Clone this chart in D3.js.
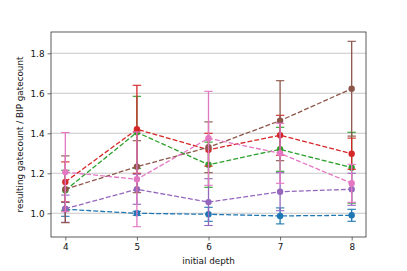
<!DOCTYPE html>
<html>
<head>
<meta charset="utf-8">
<script src="https://cdn.jsdelivr.net/npm/d3@7/dist/d3.min.js"></script>
<style>
html,body{margin:0;padding:0;background:#fff;}
svg{display:block;font-family:"DejaVu Sans",sans-serif;}
</style>
</head>
<body>
<svg id="chart" width="407" height="271"></svg>
<script>
const depths = [4, 5, 6, 7, 8];
const yTicks = [1.0, 1.2, 1.4, 1.6, 1.8];
const seriesColors = ["#1f77b4", "#2ca02c", "#d62728", "#9467bd", "#8c564b", "#e377c2"];

const blueMean   = [1.02, 1.00, 0.995, 0.987, 0.99];
const blueErr    = [0.035, 0.01, 0.035, 0.04, 0.03];
const greenMean  = [1.115, 1.405, 1.243, 1.32, 1.228];
const greenErr   = [0.10, 0.18, 0.113, 0.11, 0.177];
const redMean    = [1.157, 1.42, 1.318, 1.39, 1.298];
const redErr     = [0.10, 0.22, 0.082, 0.10, 0.078];
const purpleMean = [1.023, 1.12, 1.056, 1.108, 1.12];
const purpleErr  = [0.068, 0.075, 0.117, 0.095, 0.08];
const brownMean  = [1.12, 1.233, 1.33, 1.463, 1.623];
const brownErr   = [0.167, 0.13, 0.127, 0.20, 0.237];
const pinkMean   = [1.206, 1.17, 1.375, 1.30, 1.15];
const pinkErr    = [0.198, 0.237, 0.235, 0.15, 0.095];

const series = [
  {mean: blueMean, err: blueErr, color: seriesColors[0]},
  {mean: greenMean, err: greenErr, color: seriesColors[1]},
  {mean: redMean, err: redErr, color: seriesColors[2]},
  {mean: purpleMean, err: purpleErr, color: seriesColors[3]},
  {mean: brownMean, err: brownErr, color: seriesColors[4]},
  {mean: pinkMean, err: pinkErr, color: seriesColors[5]}
];

const svg = d3.select("#chart");
const L = 51, R = 366, T = 32, B = 237;
const x = d3.scaleLinear().domain([3.8, 8.2]).range([L, R]);
const y = d3.scaleLinear().domain([0.8815, 1.9065]).range([B, T]);
const fs = 8.8;

// grid
svg.append("g").selectAll("line").data(yTicks).join("line")
  .attr("x1", L).attr("x2", R)
  .attr("y1", d => y(d)).attr("y2", d => y(d))
  .attr("stroke", "#c8c8c8").attr("stroke-width", 1.1);

// axes
const xAxis = d3.axisBottom(x).tickValues(depths).tickFormat(d3.format("d")).tickSize(3.5).tickPadding(3);
const yAxis = d3.axisLeft(y).tickValues(yTicks).tickFormat(d3.format(".1f")).tickSize(3.5).tickPadding(3);
const gx = svg.append("g").attr("transform", `translate(0,${B})`).call(xAxis);
const gy = svg.append("g").attr("transform", `translate(${L},0)`).call(yAxis);
[gx, gy].forEach(g => {
  g.select(".domain").remove();
  g.selectAll("line").attr("stroke", "#333").attr("stroke-width", 0.7);
  g.selectAll("text").attr("font-size", fs).attr("fill", "#111").attr("font-family", "DejaVu Sans");
});

const line = d3.line().x((d, i) => x(depths[i])).y(d => y(d));
const cap = 4.2;

series.forEach(s => {
  const g = svg.append("g");
  g.append("path").datum(s.mean).attr("d", line)
    .attr("fill", "none").attr("stroke", s.color).attr("stroke-width", 1.3)
    .attr("stroke-dasharray", "4.9,2.1");
  const eb = g.selectAll("g.eb").data(depths).join("g");
  eb.append("line")
    .attr("x1", d => x(d)).attr("x2", d => x(d))
    .attr("y1", (d, i) => y(s.mean[i] - s.err[i])).attr("y2", (d, i) => y(s.mean[i] + s.err[i]))
    .attr("stroke", s.color).attr("stroke-width", 1.3);
  [-1, 1].forEach(sg => {
    eb.append("line")
      .attr("x1", d => x(d) - cap).attr("x2", d => x(d) + cap)
      .attr("y1", (d, i) => y(s.mean[i] + sg * s.err[i])).attr("y2", (d, i) => y(s.mean[i] + sg * s.err[i]))
      .attr("stroke", s.color).attr("stroke-width", 1.1);
  });
  g.selectAll("circle").data(s.mean).join("circle")
    .attr("cx", (d, i) => x(depths[i])).attr("cy", d => y(d)).attr("r", 3.2)
    .attr("fill", s.color);
});

// frame
svg.append("rect").attr("x", L).attr("y", T).attr("width", R - L).attr("height", B - T)
  .attr("fill", "none").attr("stroke", "#333").attr("stroke-width", 0.8);

svg.append("text").attr("x", (L + R) / 2).attr("y", 263.5).attr("text-anchor", "middle")
  .attr("font-size", fs).attr("fill", "#111").text("initial depth");
svg.append("text").attr("transform", `translate(22.5,${(T + B) / 2}) rotate(-90)`)
  .attr("text-anchor", "middle").attr("font-size", fs).attr("fill", "#111")
  .text("resulting gatecount / BIP gatecount");
</script>
</body>
</html>
